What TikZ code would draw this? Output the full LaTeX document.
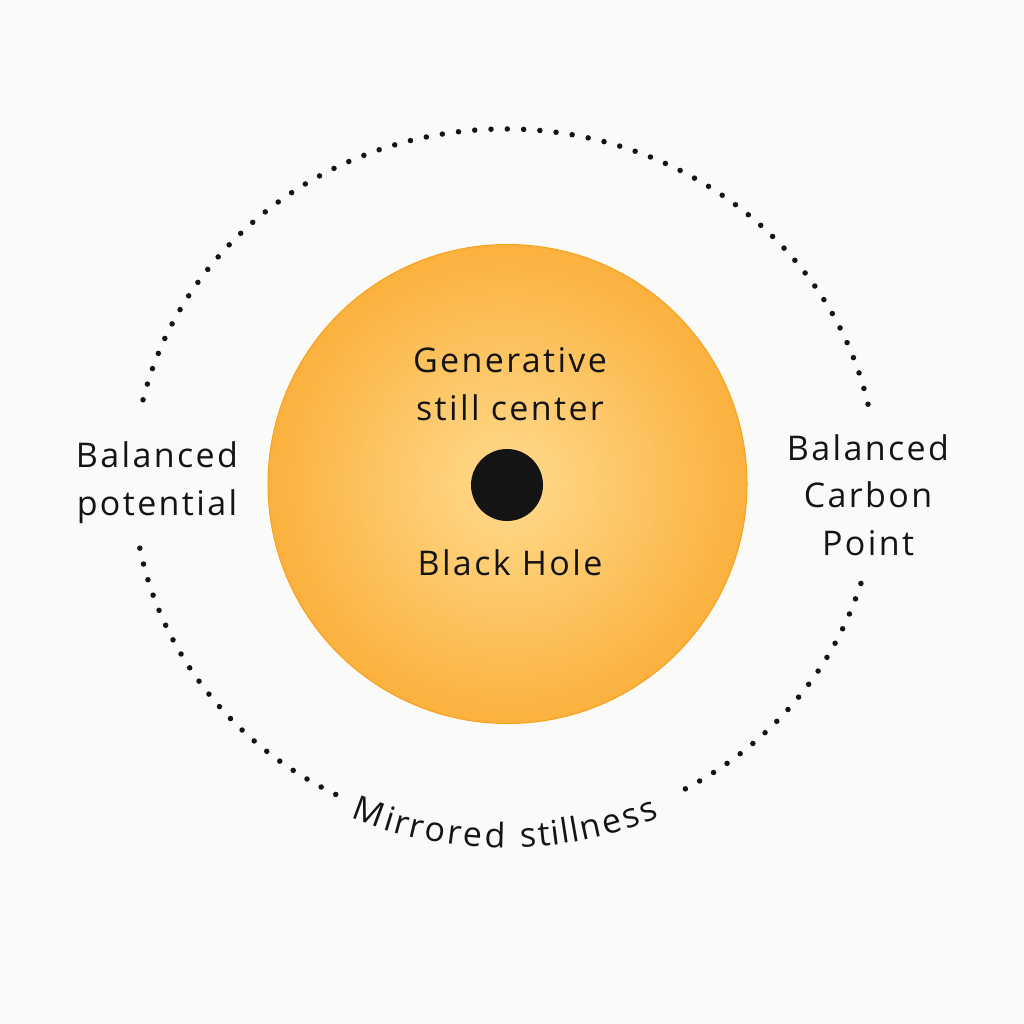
\documentclass[tikz,border=0pt]{standalone}
\usepackage{fontspec}
\setmainfont[LetterSpace=7]{Open Sans}
\usetikzlibrary{decorations.text}
\definecolor{bg}{HTML}{FAFAF8}
\definecolor{suncenter}{HTML}{FFDB8E}
\definecolor{sunedge}{HTML}{FBB13E}
\definecolor{sunrim}{HTML}{F6A21E}
\definecolor{ink}{HTML}{141414}
\begin{document}
\begin{tikzpicture}[x=1pt,y=1pt,
  lbl/.style={font=\fontsize{34}{47.5}\selectfont, text=ink, align=center, inner sep=0pt},
  dots/.style={draw=ink, line width=5.5pt, line cap=round, dash pattern=on 0pt off 16.3pt}]
\fill[bg] (0,0) rectangle (1024,-1024);
\useasboundingbox (0,0) rectangle (1024,-1024);
\coordinate (c) at (505,-481);
\node[circle, minimum size=479pt, inner sep=0pt, draw=sunrim, line width=1pt, inner color=suncenter, outer color=sunedge] (sun) at (507.5,-484) {};
\node[circle, fill=ink, minimum size=72pt, inner sep=0pt] (hole) at (507,-485) {};
\node[lbl, anchor=base] (gen) at (510,-420) {Generative\\still center};
\node[lbl, anchor=base] (bh) at (510,-575) {Black Hole};
\node[lbl, anchor=base] (bp) at (157,-515) {Balanced\\potential};
\node[lbl, anchor=base] (bcp) at (868,-555) {Balanced\\Carbon\\Point};
\draw[dots] (c) ++(12.6:372pt and 352pt) arc[start angle=12.6, end angle=169, x radius=372pt, y radius=352pt];
\draw[dots] (c) ++(191:372pt and 352pt) arc[start angle=191, end angle=244, x radius=372pt, y radius=352pt];
\draw[dots] (c) ++(299:372pt and 352pt) arc[start angle=299, end angle=343.5, x radius=372pt, y radius=352pt];
\path[decorate, decoration={text effects along path, text={Mirrored stillness},
  text effects/.cd, fit text to path,
  characters={font=\fontsize{34}{40}\selectfont, text=ink, anchor=base, inner sep=0pt, transform shape}}]
  (c) ++(246.5:387pt and 367pt) arc[start angle=246.5, end angle=293.5, x radius=387pt, y radius=367pt];
\end{tikzpicture}
\end{document}
